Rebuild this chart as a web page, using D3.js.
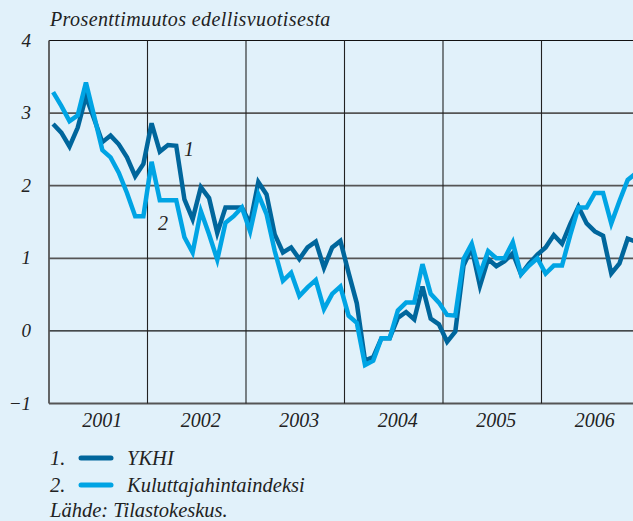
<!DOCTYPE html>
<html>
<head>
<meta charset="utf-8">
<script src="https://cdn.jsdelivr.net/npm/d3@7"></script>
<style>
  body { margin: 0; background: #e1f1fa; }
  svg { display: block; }
  text { font-family: 'Liberation Serif', 'DejaVu Serif', serif; font-style: italic; fill: #222; }
</style>
</head>
<body>
<div class="container"></div>
<script>
// monthly change from previous year, Jan 2001 - Dec 2006
let years = [2001, 2002, 2003, 2004, 2005, 2006];
let yTicks = [-1, 0, 1, 2, 3, 4];

let ykhi = [
  2.85, 2.73, 2.54, 2.80, 3.23, 2.92, 2.60, 2.69, 2.57, 2.39, 2.13, 2.30,
  2.86, 2.47, 2.56, 2.55, 1.81, 1.54, 1.98, 1.83, 1.35, 1.70, 1.70, 1.70,
  1.48, 2.05, 1.88, 1.33, 1.08, 1.15, 0.99, 1.15, 1.23, 0.87, 1.15, 1.24,
  0.80, 0.38, -0.41, -0.36, -0.10, -0.10, 0.18, 0.26, 0.16, 0.61, 0.17, 0.09,
  -0.15, -0.01, 0.90, 1.14, 0.62, 0.99, 0.89, 0.96, 1.07, 0.78, 0.93, 1.05,
  1.15, 1.32, 1.20, 1.47, 1.71, 1.48, 1.37, 1.31, 0.79, 0.93, 1.27, 1.23
];

let khi = [
  3.29, 3.10, 2.89, 2.97, 3.42, 2.96, 2.49, 2.39, 2.18, 1.90, 1.58, 1.58,
  2.33, 1.80, 1.80, 1.80, 1.29, 1.08, 1.65, 1.33, 0.98, 1.49, 1.58, 1.70,
  1.37, 1.88, 1.61, 1.10, 0.69, 0.80, 0.48, 0.60, 0.70, 0.30, 0.51, 0.61,
  0.21, 0.11, -0.47, -0.41, -0.10, -0.10, 0.28, 0.39, 0.39, 0.92, 0.51, 0.39,
  0.22, 0.21, 0.99, 1.20, 0.78, 1.10, 1.00, 1.00, 1.22, 0.78, 0.90, 1.00,
  0.79, 0.90, 0.90, 1.32, 1.70, 1.70, 1.90, 1.90, 1.48, 1.79, 2.08, 2.17
];

let width = 633;
let height = 521;

let svg = d3
  .select('.container')
  .append('svg')
  .attr('width', width)
  .attr('height', height);

svg.append('rect').attr('width', width).attr('height', height).attr('fill', '#e1f1fa');

let xScale = d3
  .scaleLinear()
  .domain([2001, 2007])
  .range([49, 640]);

let yScale = d3.scaleLinear().domain([-1, 4]).range([403.5, 40.5]);

// horizontal grid
svg
  .append('g')
  .selectAll('line')
  .data(yTicks)
  .enter()
  .append('line')
  .attr('x1', 49)
  .attr('x2', width)
  .attr('y1', (d) => yScale(d))
  .attr('y2', (d) => yScale(d))
  .attr('stroke', (d) => (d === 0 || d === 4 ? '#111' : '#555'))
  .attr('stroke-width', (d) => (d === 0 || d === 4 ? 1.2 : 1.8));

// vertical grid at year boundaries
svg
  .append('g')
  .selectAll('line')
  .data(years)
  .enter()
  .append('line')
  .attr('x1', (d) => xScale(d))
  .attr('x2', (d) => xScale(d))
  .attr('y1', yScale(4))
  .attr('y2', yScale(-1))
  .attr('stroke', (d) => (d === 2001 ? '#555' : '#222'))
  .attr('stroke-width', (d) => (d === 2001 ? 1.8 : 1.1));

// y labels
svg
  .append('g')
  .selectAll('text')
  .data(yTicks)
  .enter()
  .append('text')
  .attr('x', 31)
  .attr('y', (d) => yScale(d) + 6)
  .attr('text-anchor', 'end')
  .style('font-size', '19px')
  .text((d) => (d < 0 ? '\u2212' + Math.abs(d) : d));

// x labels
svg
  .append('g')
  .selectAll('text')
  .data(years)
  .enter()
  .append('text')
  .attr('x', (d) => xScale(d + 0.5) + 4)
  .attr('y', 427)
  .attr('text-anchor', 'middle')
  .style('font-size', '20px')
  .text((d) => d);

svg
  .append('text')
  .attr('x', 50)
  .attr('y', 26)
  .style('font-size', '20px')
  .style('letter-spacing', '0.4px')
  .text('Prosenttimuutos edellisvuotisesta');

let line = d3
  .line()
  .x((d, i) => xScale(2001 + (i + 0.5) / 12))
  .y((d) => yScale(d));

svg
  .append('path')
  .datum(ykhi)
  .attr('d', line)
  .attr('fill', 'none')
  .attr('stroke', '#00669c')
  .attr('stroke-width', 4.5);

svg
  .append('path')
  .datum(khi)
  .attr('d', line)
  .attr('fill', 'none')
  .attr('stroke', '#00a4e4')
  .attr('stroke-width', 4.5);

// series labels
svg.append('text').attr('x', 189).attr('y', 156).style('font-size', '20px').attr('text-anchor', 'middle').text('1');
svg.append('text').attr('x', 163).attr('y', 230).style('font-size', '20px').attr('text-anchor', 'middle').text('2');

// legend
let legend = [
  { n: '1.', name: 'YKHI', color: '#00669c' },
  { n: '2.', name: 'Kuluttajahintaindeksi', color: '#00a4e4' }
];

let lg = svg
  .append('g')
  .selectAll('g')
  .data(legend)
  .enter()
  .append('g')
  .attr('transform', (d, i) => 'translate(0,' + (465 + i * 27) + ')');

lg.append('text').attr('x', 50).attr('y', 0).style('font-size', '20.5px').text((d) => d.n);
lg
  .append('line')
  .attr('x1', 81)
  .attr('x2', 111)
  .attr('y1', -7)
  .attr('y2', -7)
  .attr('stroke', (d) => d.color)
  .attr('stroke-width', 5)
  .attr('stroke-linecap', 'round');
lg.append('text').attr('x', 127).attr('y', 0).style('font-size', '20.5px').text((d) => d.name);

svg
  .append('text')
  .attr('x', 50)
  .attr('y', 517)
  .style('font-size', '20.5px')
  .text('Lähde: Tilastokeskus.');
</script>
</body>
</html>
